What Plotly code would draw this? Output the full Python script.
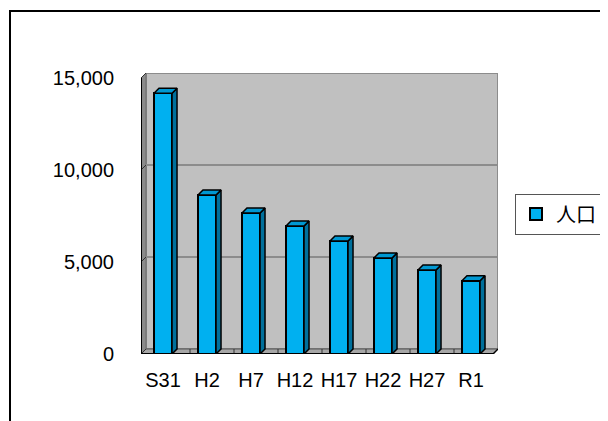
import plotly.graph_objects as go

categories = ["S31", "H2", "H7", "H12", "H17", "H22", "H27", "R1"]
population = [14170, 8640, 7660, 6960, 6140, 5220, 4570, 3980]
y_ticks = [0, 5000, 10000, 15000]
series_name = "人口"

W, H = 608, 421
OFF = 8  # page body margin
L, T = 141 - OFF, 73 - OFF
PW, PH = 357, 281
R, B = W - L - PW, H - T - PH
px_per_cat = 44.0
px_per_unit = 276.0 / 15000.0
DX = 5 / px_per_cat
DY = 5 / px_per_unit
BW = 0.41
YMAX = 15000

FRONT = "#00B0F0"
SIDE = "#00709C"
TOP = "#0098D2"

x = list(range(len(categories)))

fig = go.Figure()

# side and top faces of 3D bars (computed from data)
for xi, v in zip(x, population):
    xr = xi + BW / 2
    xl = xi - BW / 2
    fig.add_trace(go.Scatter(
        x=[xr, xr + DX, xr + DX, xr, xr], y=[0, DY, v + DY, v, 0],
        mode="lines", fill="toself", fillcolor=SIDE,
        line=dict(color="black", width=1.5), showlegend=False, hoverinfo="skip"))
    fig.add_trace(go.Scatter(
        x=[xl, xl + DX, xr + DX, xr, xl], y=[v, v + DY, v + DY, v, v],
        mode="lines", fill="toself", fillcolor=TOP,
        line=dict(color="black", width=1.5), showlegend=False, hoverinfo="skip"))

fig.add_trace(go.Bar(
    x=x, y=population, width=BW, name=series_name,
    marker=dict(color=FRONT, line=dict(color="black", width=2)),
    showlegend=True))

shapes = []
x0, x1 = -0.5, len(categories) - 0.5
# back wall
shapes.append(dict(type="rect", xref="x", yref="y", x0=x0 + DX, x1=x1 + DX, y0=DY, y1=YMAX + DY,
                   fillcolor="#C0C0C0", line=dict(color="#8C8C8C", width=2), layer="below"))
# left wall
shapes.append(dict(type="path", xref="x", yref="y",
                   path=f"M {x0},0 L {x0},{YMAX} L {x0+DX},{YMAX+DY} L {x0+DX},{DY} Z",
                   fillcolor="#8A8A8A", line=dict(color="#6A6A6A", width=1), layer="below"))
# floor
shapes.append(dict(type="path", xref="x", yref="y",
                   path=f"M {x0},0 L {x1},0 L {x1+DX},{DY} L {x0+DX},{DY} Z",
                   fillcolor="#A6A6A6", line=dict(color="#555555", width=1), layer="below"))
# gridlines on back wall
for t in y_ticks[1:-1]:
    shapes.append(dict(type="line", xref="x", yref="y", x0=x0 + DX, x1=x1 + DX, y0=t + DY, y1=t + DY,
                       line=dict(color="#8C8C8C", width=2), layer="below"))
# tick marks on left wall
for t in y_ticks:
    shapes.append(dict(type="line", xref="x", yref="y", x0=x0, x1=x0 + DX, y0=t, y1=t + DY,
                       line=dict(color="#333333", width=1), layer="below"))
# floor ticks at category boundaries
for k in range(len(categories) - 1):
    shapes.append(dict(type="line", xref="x", yref="y", x0=k + 0.5 + DX, x1=k + 0.5 + DX, y0=0, y1=DY,
                       line=dict(color="#333333", width=1), layer="below"))
# front axis lines
shapes.append(dict(type="line", xref="x", yref="y", x0=x0, x1=x0, y0=0, y1=YMAX,
                   line=dict(color="black", width=2)))
shapes.append(dict(type="line", xref="x", yref="y", x0=x0, x1=x1, y0=0, y1=0,
                   line=dict(color="black", width=2)))
shapes.append(dict(type="line", xref="x", yref="y", x0=x1, x1=x1 + DX, y0=0, y1=DY,
                   line=dict(color="black", width=1.5)))

# outer chart border (extends beyond the right/bottom edges)
bx, by = 10 - OFF, 11 - OFF
shapes.append(dict(type="rect", xref="paper", yref="paper",
                   x0=(bx - L) / PW, x1=(W + 20 - L) / PW,
                   y0=(T + PH - (H + 20)) / PH, y1=(T + PH - by) / PH,
                   line=dict(color="black", width=2), fillcolor="rgba(0,0,0,0)"))

font_family = "Liberation Sans, Noto Sans CJK JP, sans-serif"

lx, ly = 515 - OFF, 214 - OFF
fig.update_layout(
    width=W, height=H,
    margin=dict(l=L, r=R, t=T, b=B, pad=0),
    paper_bgcolor="white", plot_bgcolor="white",
    font=dict(family=font_family, size=20, color="black"),
    shapes=shapes,
    bargap=0,
    xaxis=dict(range=[x0, x1 + DX], tickvals=x, ticktext=categories,
               showgrid=False, zeroline=False, showline=False, ticks="",
               ticklabelstandoff=12, fixedrange=True),
    yaxis=dict(range=[0, YMAX + DY], tickvals=y_ticks, tickformat=",",
               showgrid=False, zeroline=False, showline=False, ticks="",
               ticklabelstandoff=26, fixedrange=True),
    legend=dict(x=(lx - L) / PW, y=(T + PH - ly) / PH, xanchor="left", yanchor="middle",
                bordercolor="#555555", borderwidth=1, bgcolor="white",
                itemwidth=30, font=dict(size=20, family=font_family)),
    showlegend=True,
)

fig.write_html("out.html")
